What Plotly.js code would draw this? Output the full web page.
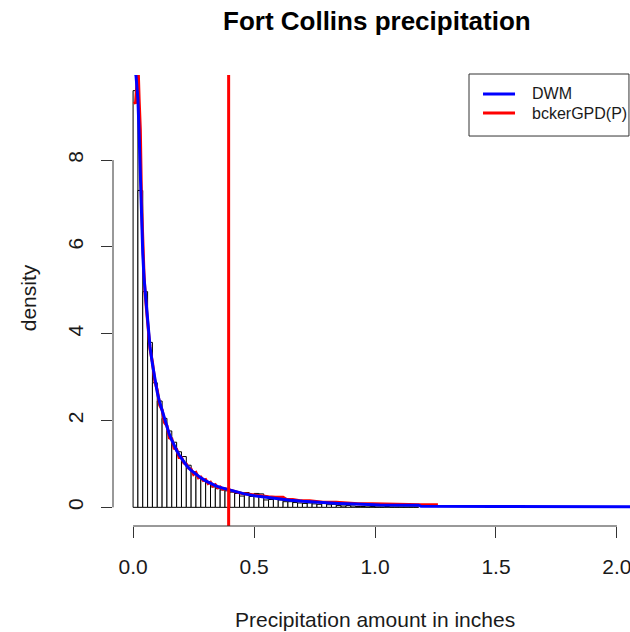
<!DOCTYPE html>
<html>
<head>
<meta charset="utf-8">
<script src="https://cdn.plot.ly/plotly-3.0.1.min.js"></script>
<style>
  html, body { margin: 0; padding: 0; background: #ffffff; }
  #chart { width: 630px; height: 632px; }
</style>
</head>
<body>
<div id="chart"></div>
<script>
// Histogram of daily precipitation (density scale), bins 0.02 in wide starting at 0
const binWidth = 0.02;
const binDensity = [
  9.6, 7.3, 4.97, 3.8, 2.87, 2.45, 2.05, 1.76, 1.5, 1.28,
  1.17, 0.97, 0.82, 0.71, 0.64, 0.59, 0.47, 0.43, 0.40, 0.38,
  0.35, 0.32, 0.26, 0.34, 0.25, 0.32, 0.31, 0.17, 0.18, 0.20,
  0.17, 0.13, 0.13, 0.11, 0.10, 0.09, 0.10, 0.08, 0.07, 0.09,
  0.06, 0.07, 0.04, 0.03, 0.04, 0.03, 0.02, 0.02, 0.01, 0.02,
  0.01, 0.01, 0.02, 0.01, 0.01, 0.01, 0.01, 0.01, 0.01
];

// Fitted DWM density
const dwmX = [0.004, 0.008, 0.012, 0.02, 0.025, 0.03, 0.035, 0.04, 0.045, 0.05,
  0.06, 0.07, 0.08, 0.09, 0.10, 0.11, 0.12, 0.13, 0.14, 0.15,
  0.16, 0.17, 0.18, 0.19, 0.20, 0.22, 0.24, 0.26, 0.28, 0.30,
  0.32, 0.34, 0.36, 0.38, 0.40, 0.43, 0.46, 0.50, 0.55, 0.60,
  0.65, 0.70, 0.75, 0.80, 0.85, 0.92, 1.00, 1.02, 1.18, 1.19,
  1.50, 2.10];
const dwmY = [10.8, 10.0, 9.95, 9.4, 8.6, 7.5, 6.6, 5.85, 5.3, 4.95,
  4.3, 3.7, 3.3, 2.92, 2.65, 2.42, 2.22, 2.02, 1.85, 1.68,
  1.55, 1.42, 1.31, 1.21, 1.12, 0.97, 0.85, 0.76, 0.68, 0.61,
  0.55, 0.50, 0.46, 0.43, 0.40, 0.35, 0.31, 0.27, 0.23, 0.20,
  0.165, 0.14, 0.12, 0.105, 0.09, 0.075, 0.06, 0.055, 0.05, 0.025,
  0.02, 0.015];

// Fitted bckerGPD(P) density
const gpdX = [0.005, 0.01, 0.015, 0.02, 0.025, 0.03, 0.035, 0.04, 0.045, 0.05,
  0.06, 0.07, 0.08, 0.09, 0.10, 0.11, 0.12, 0.13, 0.14, 0.15,
  0.16, 0.17, 0.18, 0.19, 0.20, 0.21, 0.22, 0.23, 0.24, 0.25,
  0.26, 0.27, 0.28, 0.29, 0.30, 0.31, 0.32, 0.33, 0.34, 0.35,
  0.36, 0.37, 0.38, 0.40, 0.42, 0.45, 0.48, 0.52, 0.54, 0.56,
  0.587, 0.62, 0.635, 0.66, 0.69, 0.73, 0.785, 0.84, 0.93, 0.99,
  1.19, 1.26];
const gpdY = [9.35, 9.3, 9.7, 10.3, 9.4, 8.7, 7.0, 5.9, 5.4, 4.9,
  4.35, 3.65, 3.35, 2.9, 2.7, 2.35, 2.25, 1.95, 1.88, 1.6,
  1.58, 1.36, 1.34, 1.15, 1.15, 1.02, 1.0, 0.90, 0.88, 0.76,
  0.80, 0.68, 0.70, 0.62, 0.64, 0.55, 0.58, 0.49, 0.52, 0.45,
  0.47, 0.42, 0.43, 0.40, 0.37, 0.32, 0.30, 0.27, 0.245, 0.245,
  0.23, 0.23, 0.18, 0.18, 0.15, 0.15, 0.115, 0.115, 0.083, 0.083,
  0.06, 0.06];

// GPD threshold (inches)
const threshold = 0.395;

const xTicks = [0, 0.5, 1.0, 1.5, 2.0];
const xTickText = ['0.0', '0.5', '1.0', '1.5', '2.0'];
const yTicks = [0, 2, 4, 6, 8];
const yTickText = ['0', '2', '4', '6', '8'];

const seriesNames = ['DWM', 'bckerGPD(P)'];
const seriesColors = ['#0000ff', '#ff0000'];

const FONT = '"Liberation Sans", Arial, Helvetica, sans-serif';
const INK = '#1a1a1a';

const binCenters = binDensity.map((_, i) => (i + 0.5) * binWidth);

const traces = [
  {
    type: 'bar',
    x: binCenters,
    y: binDensity,
    width: binWidth,
    marker: { color: '#ffffff', line: { color: '#000000', width: 1 } },
    hoverinfo: 'skip',
    showlegend: false
  },
  {
    type: 'scatter', mode: 'lines',
    x: gpdX, y: gpdY, name: seriesNames[1],
    line: { color: seriesColors[1], width: 3 },
    showlegend: false
  },
  {
    type: 'scatter', mode: 'lines',
    x: dwmX, y: dwmY, name: seriesNames[0],
    line: { color: seriesColors[0], width: 3 },
    showlegend: false
  }
];

// Legend box geometry (paper units)
const lg = { x0: 0.6886, x1: 0.998, y0: 0.8647, y1: 1.0022,
             lx0: 0.7157, lx1: 0.7776, tx: 0.8066, rows: [0.9579, 0.9157] };

const shapes = [
  // threshold line across the plotting region
  { type: 'line', xref: 'x', yref: 'paper', x0: threshold, x1: threshold, y0: 0, y1: 1,
    line: { color: '#ff0000', width: 3 }, layer: 'above' },
  // R-style axis lines spanning first to last tick
  { type: 'line', xref: 'x', yref: 'paper', x0: xTicks[0], x1: xTicks[xTicks.length - 1], y0: 0, y1: 0,
    line: { color: '#333333', width: 1 } },
  { type: 'line', xref: 'paper', yref: 'y', x0: 0, x1: 0, y0: yTicks[0], y1: yTicks[yTicks.length - 1],
    line: { color: '#333333', width: 1 } },
  // legend frame and keys
  { type: 'rect', xref: 'paper', yref: 'paper', x0: lg.x0, x1: lg.x1, y0: lg.y0, y1: lg.y1,
    line: { color: '#333333', width: 1 }, fillcolor: '#ffffff', layer: 'above' },
  { type: 'line', xref: 'paper', yref: 'paper', x0: lg.lx0, x1: lg.lx1, y0: lg.rows[0], y1: lg.rows[0],
    line: { color: seriesColors[0], width: 3 }, layer: 'above' },
  { type: 'line', xref: 'paper', yref: 'paper', x0: lg.lx0, x1: lg.lx1, y0: lg.rows[1], y1: lg.rows[1],
    line: { color: seriesColors[1], width: 3 }, layer: 'above' }
];

const annotations = [
  { text: '<b>Fort Collins precipitation</b>', xref: 'paper', yref: 'paper',
    x: 0.51, y: 1.119, xanchor: 'center', yanchor: 'middle', showarrow: false,
    font: { family: FONT, size: 26, color: '#000000' } },
  { text: 'Precipitation amount in inches', xref: 'paper', yref: 'paper',
    x: 0.506, y: -0.207, xanchor: 'center', yanchor: 'middle', showarrow: false,
    font: { family: FONT, size: 21, color: INK } },
  { text: 'density', xref: 'paper', yref: 'paper', textangle: -90,
    x: -0.1644, y: 0.505, xanchor: 'center', yanchor: 'middle', showarrow: false,
    font: { family: FONT, size: 21, color: INK } },
  { text: seriesNames[0], xref: 'paper', yref: 'paper', x: lg.tx, y: lg.rows[0],
    xanchor: 'left', yanchor: 'middle', showarrow: false,
    font: { family: FONT, size: 16, color: INK } },
  { text: seriesNames[1], xref: 'paper', yref: 'paper', x: lg.tx, y: lg.rows[1],
    xanchor: 'left', yanchor: 'middle', showarrow: false,
    font: { family: FONT, size: 16, color: INK } }
];

const layout = {
  width: 630, height: 632,
  margin: { l: 113, r: 0, t: 75, b: 106, pad: 0 },
  paper_bgcolor: '#ffffff', plot_bgcolor: '#ffffff',
  font: { family: FONT, color: INK },
  showlegend: false,
  bargap: 0,
  xaxis: {
    range: [-0.083, 2.054], showgrid: false, zeroline: false, showline: false,
    tickmode: 'array', tickvals: xTicks, ticktext: xTickText,
    ticks: 'outside', ticklen: 11, tickwidth: 1, tickcolor: '#333333',
    ticklabelstandoff: 11, ticklabeloverflow: 'allow',
    tickfont: { family: FONT, size: 21, color: INK }
  },
  yaxis: {
    range: [-0.43, 9.96], showgrid: false, zeroline: false, showline: false,
    tickmode: 'array', tickvals: yTicks, ticktext: yTickText,
    ticks: 'outside', ticklen: 11, tickwidth: 1, tickcolor: '#333333',
    tickangle: -90, ticklabelstandoff: 10, ticklabeloverflow: 'allow',
    tickfont: { family: FONT, size: 21, color: INK }
  },
  shapes: shapes,
  annotations: annotations
};

Plotly.newPlot('chart', traces, layout, { staticPlot: true, displayModeBar: false });
</script>
</body>
</html>
